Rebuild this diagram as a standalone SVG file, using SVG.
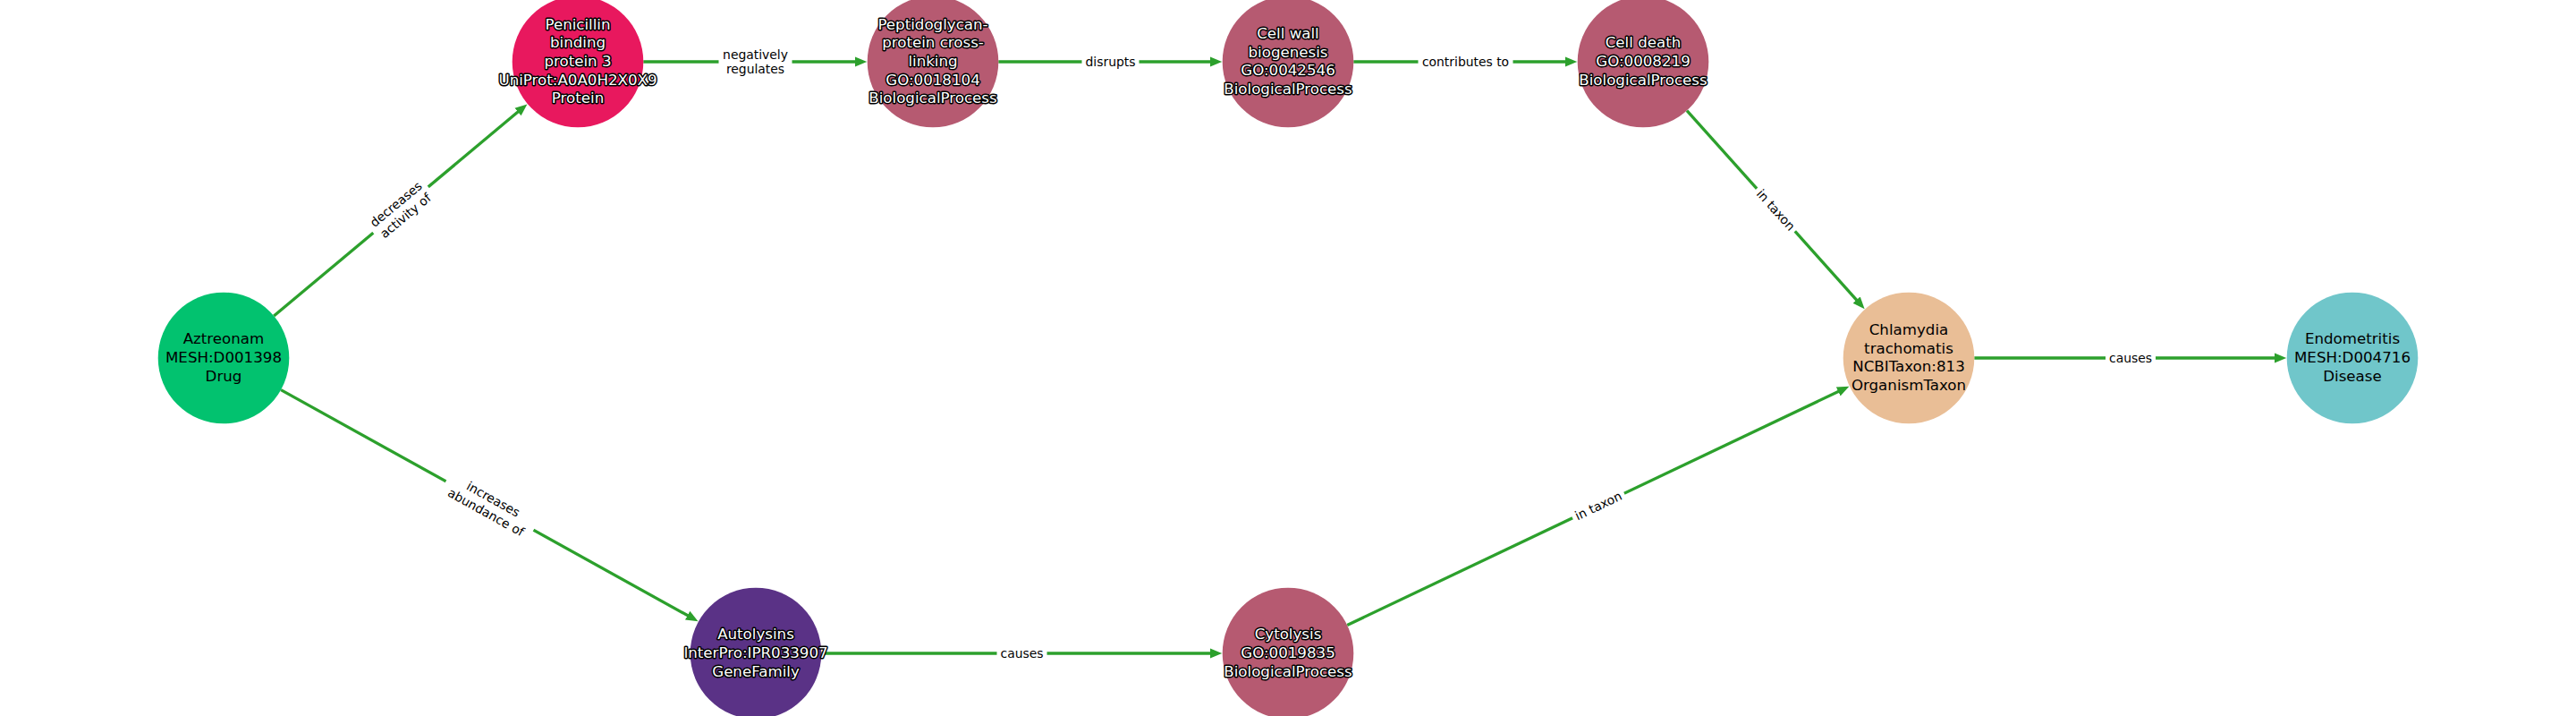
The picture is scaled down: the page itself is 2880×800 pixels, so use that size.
<svg xmlns="http://www.w3.org/2000/svg" width="2880" height="800" viewBox="0 0 2880 800">
<style>
.edge{stroke:#2ca02c;stroke-width:3.3;fill:none;marker-end:url(#arr)}
.nt{font-family:"DejaVu Sans",Verdana,sans-serif;font-size:16.67px;text-anchor:middle}
.dark{fill:#000}
.out{fill:#fff;stroke:#000;stroke-width:3;stroke-linejoin:round;paint-order:stroke}
.el{font-family:"DejaVu Sans",Verdana,sans-serif;font-size:13.9px;text-anchor:middle;fill:#000}
.lb{fill:#fff}
</style>
<defs>
<marker id="arr" markerUnits="userSpaceOnUse" markerWidth="16" markerHeight="14" viewBox="0 0 16 14" refX="7" refY="7" orient="auto">
<path d="M0,1.5 L13.5,7 L0,12.5 z" fill="#2ca02c"/>
</marker>
</defs>
<rect width="2880" height="800" fill="#fff"/>
<g id="connectors">
<line class="edge" x1="306.2" y1="353" x2="584.4" y2="120.6"/>
<line class="edge" x1="719.3" y1="69" x2="962.7" y2="69"/>
<line class="edge" x1="1116.3" y1="69" x2="1359.7" y2="69"/>
<line class="edge" x1="1513.3" y1="69" x2="1756.7" y2="69"/>
<line class="edge" x1="1886" y1="123.6" x2="2080.3" y2="340.3"/>
<line class="edge" x1="2207.3" y1="400" x2="2549.7" y2="400"/>
<line class="edge" x1="314.1" y1="435.6" x2="774.8" y2="691"/>
<line class="edge" x1="918.3" y1="730" x2="1359.7" y2="730"/>
<line class="edge" x1="1506.2" y1="698.5" x2="2061.5" y2="434.5"/>
<g id="edge-labels">
<g transform="translate(448,234.5) rotate(-39.9)"><rect class="lb" x="-40" y="-21" width="80" height="42" rx="5"/><text class="el"><tspan x="0" y="-3.4">decreases</tspan><tspan x="0" y="13.3">activity of</tspan></text></g>
<g transform="translate(844.5,69)"><rect class="lb" x="-41" y="-21" width="82" height="42" rx="5"/><text class="el"><tspan x="0" y="-3.4">negatively</tspan><tspan x="0" y="13.3">regulates</tspan></text></g>
<g transform="translate(1241.5,69)"><rect class="lb" x="-32" y="-12.5" width="64" height="25" rx="5"/><text class="el" y="5">disrupts</text></g>
<g transform="translate(1638.5,69)"><rect class="lb" x="-53" y="-12.5" width="106" height="25" rx="5"/><text class="el" y="5">contributes to</text></g>
<g transform="translate(1985.5,234.5) rotate(48.1)"><rect class="lb" x="-32" y="-12.5" width="64" height="25" rx="5"/><text class="el" y="5">in taxon</text></g>
<g transform="translate(2382,400)"><rect class="lb" x="-28" y="-12.5" width="56" height="25" rx="5"/><text class="el" y="5">causes</text></g>
<g transform="translate(547.5,565) rotate(29)"><rect class="lb" x="-56" y="-21" width="112" height="42" rx="5"/><text class="el"><tspan x="0" y="-3.4">increases</tspan><tspan x="0" y="13.3">abundance of</tspan></text></g>
<g transform="translate(1142.5,730)"><rect class="lb" x="-28" y="-12.5" width="56" height="25" rx="5"/><text class="el" y="5">causes</text></g>
<g transform="translate(1787,565) rotate(-25.4)"><rect class="lb" x="-32" y="-12.5" width="64" height="25" rx="5"/><text class="el" y="5">in taxon</text></g>
</g>
</g>
<g id="aztreonam">
<circle cx="250" cy="400" r="73.3" fill="#02c26f"/>
<text class="nt dark"><tspan x="250" y="384.4">Aztreonam</tspan><tspan x="250" y="405">MESH:D001398</tspan><tspan x="250" y="425.6">Drug</tspan></text>
</g>
<g id="pbp3">
<circle cx="646" cy="69" r="73.3" fill="#e8185e"/>
<text class="nt out"><tspan x="646" y="32.8">Penicillin</tspan><tspan x="646" y="53.4">binding</tspan><tspan x="646" y="74">protein 3</tspan><tspan x="646" y="94.6">UniProt:A0A0H2X0X9</tspan><tspan x="646" y="115.2">Protein</tspan></text>
</g>
<g id="peptidoglycan">
<circle cx="1043" cy="69" r="73.3" fill="#b65a71"/>
<text class="nt out"><tspan x="1043" y="32.8">Peptidoglycan-</tspan><tspan x="1043" y="53.4">protein cross-</tspan><tspan x="1043" y="74">linking</tspan><tspan x="1043" y="94.6">GO:0018104</tspan><tspan x="1043" y="115.2">BiologicalProcess</tspan></text>
</g>
<g id="cellwall">
<circle cx="1440" cy="69" r="73.3" fill="#b65a71"/>
<text class="nt out"><tspan x="1440" y="43.1">Cell wall</tspan><tspan x="1440" y="63.7">biogenesis</tspan><tspan x="1440" y="84.3">GO:0042546</tspan><tspan x="1440" y="104.9">BiologicalProcess</tspan></text>
</g>
<g id="celldeath">
<circle cx="1837" cy="69" r="73.3" fill="#b65a71"/>
<text class="nt out"><tspan x="1837" y="53.4">Cell death</tspan><tspan x="1837" y="74">GO:0008219</tspan><tspan x="1837" y="94.6">BiologicalProcess</tspan></text>
</g>
<g id="chlamydia">
<circle cx="2134" cy="400" r="73.3" fill="#e9be96"/>
<text class="nt dark"><tspan x="2134" y="374.1">Chlamydia</tspan><tspan x="2134" y="394.7">trachomatis</tspan><tspan x="2134" y="415.3">NCBITaxon:813</tspan><tspan x="2134" y="435.9">OrganismTaxon</tspan></text>
</g>
<g id="endometritis">
<circle cx="2630" cy="400" r="73.3" fill="#70c6ca"/>
<text class="nt dark"><tspan x="2630" y="384.4">Endometritis</tspan><tspan x="2630" y="405">MESH:D004716</tspan><tspan x="2630" y="425.6">Disease</tspan></text>
</g>
<g id="autolysins">
<circle cx="845" cy="730" r="73.3" fill="#5a3286"/>
<text class="nt out"><tspan x="845" y="714.4">Autolysins</tspan><tspan x="845" y="735">InterPro:IPR033907</tspan><tspan x="845" y="755.6">GeneFamily</tspan></text>
</g>
<g id="cytolysis">
<circle cx="1440" cy="730" r="73.3" fill="#b65a71"/>
<text class="nt out"><tspan x="1440" y="714.4">Cytolysis</tspan><tspan x="1440" y="735">GO:0019835</tspan><tspan x="1440" y="755.6">BiologicalProcess</tspan></text>
</g>
</svg>
